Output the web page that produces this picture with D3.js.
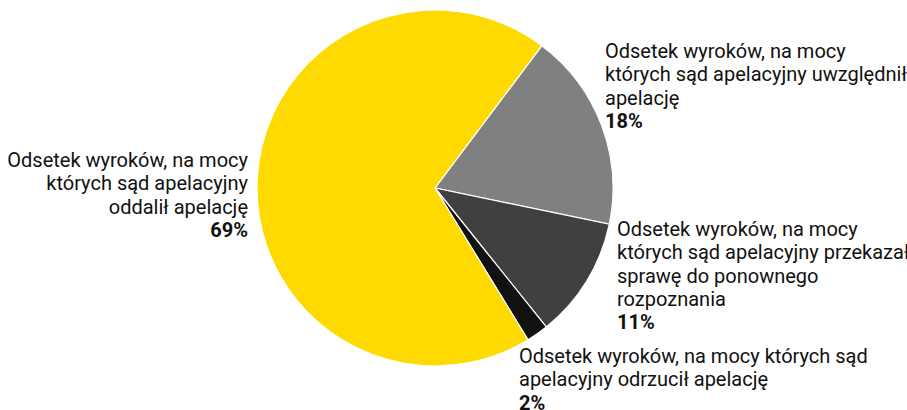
<!DOCTYPE html>
<html>
<head>
<meta charset="utf-8">
<script src="https://cdn.jsdelivr.net/npm/d3@7"></script>
<style>
  body { margin: 0; background: #fff; }
  text { font-family: Roboto, "Noto Sans", sans-serif; fill: #111; }
</style>
</head>
<body>
<div id="chart"></div>
<script>
// slice data, clockwise starting from the top-right
var categories = [
    "Odsetek wyroków, na mocy których sąd apelacyjny uwzględnił apelację",
    "Odsetek wyroków, na mocy których sąd apelacyjny przekazał sprawę do ponownego rozpoznania",
    "Odsetek wyroków, na mocy których sąd apelacyjny odrzucił apelację",
    "Odsetek wyroków, na mocy których sąd apelacyjny oddalił apelację"
];
var values = [18, 11, 2, 69];
var labelLines = [
    ["Odsetek wyroków, na mocy", "których sąd apelacyjny uwzględnił", "apelację"],
    ["Odsetek wyroków, na mocy", "których sąd apelacyjny przekazał", "sprawę do ponownego", "rozpoznania"],
    ["Odsetek wyroków, na mocy których sąd", "apelacyjny odrzucił apelację"],
    ["Odsetek wyroków, na mocy", "których sąd apelacyjny", "oddalił apelację"]
];
var colors = ["#808080", "#404040", "#111111", "#FFDA00"];

var svgWidth = 907;
var svgHeight = 410;
var cx = 435, cy = 188, radius = 178;
var lineH = 23.3;

var svg = d3.select("#chart")
    .append("svg")
    .attr("width", svgWidth)
    .attr("height", svgHeight);

var g = svg.append("g")
    .attr("transform", `translate(${cx}, ${cy})`);

var startA = 36.9 * Math.PI / 180;
var pie = d3.pie()
    .sort(null)
    .value(d => d)
    .startAngle(startA)
    .endAngle(startA + 2 * Math.PI);

var arc = d3.arc().innerRadius(0).outerRadius(radius);

var arcs = pie(values);

g.selectAll("path")
    .data(arcs)
    .enter()
    .append("path")
    .attr("d", arc)
    .attr("fill", (d, i) => colors[i])
    .attr("stroke", "#fff")
    .attr("stroke-width", 1.2);

// label placement (relative to pie centre): x, y of first line centre, anchor
var labelPos = [
    {x: 170, y: -137, anchor: "start"},
    {x: 182, y: 41, anchor: "start"},
    {x: 84, y: 168, anchor: "start"},
    {x: -187, y: -28, anchor: "end"}
];

arcs.forEach(function(a, i) {
    var p = labelPos[i];
    var t = g.append("text")
        .attr("x", p.x)
        .attr("y", p.y)
        .attr("text-anchor", p.anchor)
        .style("font-size", "20px");
    var lines = labelLines[i];
    lines.forEach(function(l, j) {
        t.append("tspan")
            .attr("x", p.x)
            .attr("y", p.y + j * lineH + 7)
            .text(l);
    });
    t.append("tspan")
        .attr("x", p.x)
        .attr("y", p.y + lines.length * lineH + 7)
        .style("font-weight", "bold")
        .text(values[i] + "%");
});
</script>
</body>
</html>
